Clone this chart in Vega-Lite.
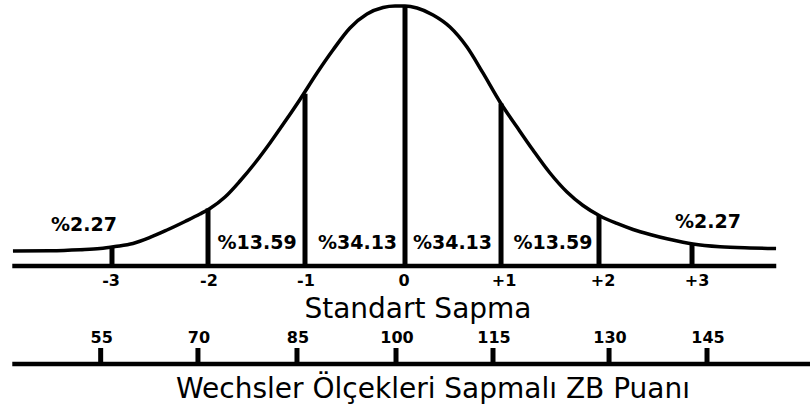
{
  "$schema": "https://vega.github.io/schema/vega-lite/v6.json",
  "width": 810,
  "height": 412,
  "padding": 0,
  "autosize": "none",
  "background": "white",
  "config": {"view": {"stroke": null}},
  "datasets": {
    "curve": [
      {"z": -4.023, "h": 0.0247}, {"z": -3.640, "h": 0.0252}, {"z": -3.330, "h": 0.0269}, {"z": -3.122, "h": 0.0288},
      {"z": -2.967, "h": 0.0321}, {"z": -2.782, "h": 0.0371}, {"z": -2.606, "h": 0.0470}, {"z": -2.430, "h": 0.0593},
      {"z": -2.244, "h": 0.0734}, {"z": -2.089, "h": 0.0857}, {"z": -1.986, "h": 0.0948}, {"z": -1.830, "h": 0.1137},
      {"z": -1.675, "h": 0.1401}, {"z": -1.520, "h": 0.1698}, {"z": -1.365, "h": 0.2028}, {"z": -1.210, "h": 0.2381},
      {"z": -1.055, "h": 0.2746}, {"z": -0.879, "h": 0.3182}, {"z": -0.714, "h": 0.3561}, {"z": -0.538, "h": 0.3924},
      {"z": -0.362, "h": 0.4154}, {"z": -0.196, "h": 0.4262}, {"z": -0.072, "h": 0.4286}, {"z": 0.031, "h": 0.4286},
      {"z": 0.155, "h": 0.4253}, {"z": 0.321, "h": 0.4138}, {"z": 0.496, "h": 0.3940}, {"z": 0.672, "h": 0.3610},
      {"z": 0.837, "h": 0.3182}, {"z": 1.013, "h": 0.2704}, {"z": 1.189, "h": 0.2291}, {"z": 1.354, "h": 0.1912},
      {"z": 1.530, "h": 0.1533}, {"z": 1.706, "h": 0.1220}, {"z": 1.872, "h": 0.0997}, {"z": 2.048, "h": 0.0824},
      {"z": 2.223, "h": 0.0701}, {"z": 2.389, "h": 0.0602}, {"z": 2.565, "h": 0.0519}, {"z": 2.740, "h": 0.0448},
      {"z": 2.906, "h": 0.0392}, {"z": 3.009, "h": 0.0363}, {"z": 3.289, "h": 0.0317}, {"z": 3.599, "h": 0.0297},
      {"z": 3.868, "h": 0.0288}
    ],
    "dividers": [
      {"z": -2.999, "base": 0, "top": 0.0330}, {"z": -2.006, "base": 0, "top": 0.0948}, {"z": -1.003, "base": 0, "top": 0.2840},
      {"z": 0.031, "base": 0, "top": 0.4286}, {"z": 1.024, "base": 0, "top": 0.2680}, {"z": 2.037, "base": 0, "top": 0.0834},
      {"z": 2.999, "base": 0, "top": 0.0366}
    ],
    "pct": [
      {"z": -3.289, "y": 0.0676, "label": "%2.27"},
      {"z": -1.499, "y": 0.0387, "label": "%13.59"},
      {"z": -0.460, "y": 0.0387, "label": "%34.13"},
      {"z": 0.522, "y": 0.0379, "label": "%34.13"},
      {"z": 1.561, "y": 0.0379, "label": "%13.59"},
      {"z": 3.164, "y": 0.0717, "label": "%2.27"}
    ],
    "sd": [
      {"z": -3.009, "y": -0.0247, "label": "-3"}, {"z": -1.996, "y": -0.0247, "label": "-2"}, {"z": -0.993, "y": -0.0247, "label": "-1"},
      {"z": 0.021, "y": -0.0247, "label": "0"}, {"z": 1.055, "y": -0.0247, "label": "+1"}, {"z": 2.079, "y": -0.0247, "label": "+2"},
      {"z": 3.051, "y": -0.0247, "label": "+3"}
    ],
    "iq": [
      {"z": -3.116, "score": "55", "base": -0.1616, "tip": -0.1352, "ly": -0.1179},
      {"z": -2.110, "score": "70", "base": -0.1616, "tip": -0.1352, "ly": -0.1179},
      {"z": -1.086, "score": "85", "base": -0.1616, "tip": -0.1352, "ly": -0.1179},
      {"z": -0.062, "score": "100", "base": -0.1616, "tip": -0.1352, "ly": -0.1179},
      {"z": 0.941, "score": "115", "base": -0.1616, "tip": -0.1352, "ly": -0.1179},
      {"z": 2.141, "score": "130", "base": -0.1616, "tip": -0.1352, "ly": -0.1179},
      {"z": 3.154, "score": "145", "base": -0.1616, "tip": -0.1352, "ly": -0.1179}
    ],
    "axes": [
      {"x1": -4.03, "x2": 3.87, "y": 0},
      {"x1": -4.03, "x2": 4.22, "y": -0.1616}
    ],
    "titles": [
      {"z": 0.165, "y": -0.0865, "text": "Standart Sapma"},
      {"z": 0.321, "y": -0.2176, "text": "Wechsler Ölçekleri Sapmalı ZB Puanı"}
    ]
  },
  "layer": [
    {
      "data": {"name": "axes"},
      "mark": {"type": "rule", "strokeWidth": 4.5, "color": "black"},
      "encoding": {
        "x": {"field": "x1", "type": "quantitative", "scale": {"domain": [-4.157, 4.219], "nice": false, "zero": false}, "axis": null},
        "x2": {"field": "x2"},
        "y": {"field": "y", "type": "quantitative", "scale": {"domain": [-0.2407, 0.4385], "nice": false, "zero": false}, "axis": null}
      }
    },
    {
      "data": {"name": "curve"},
      "mark": {"type": "line", "strokeWidth": 3.5, "color": "black", "interpolate": "monotone"},
      "encoding": {
        "x": {"field": "z", "type": "quantitative", "scale": {"domain": [-4.157, 4.219], "nice": false, "zero": false}, "axis": null},
        "y": {"field": "h", "type": "quantitative", "scale": {"domain": [-0.2407, 0.4385], "nice": false, "zero": false}, "axis": null}
      }
    },
    {
      "data": {"name": "dividers"},
      "mark": {"type": "rule", "strokeWidth": 5, "color": "black"},
      "encoding": {
        "x": {"field": "z", "type": "quantitative", "scale": {"domain": [-4.157, 4.219], "nice": false, "zero": false}, "axis": null},
        "y": {"field": "base", "type": "quantitative", "scale": {"domain": [-0.2407, 0.4385], "nice": false, "zero": false}, "axis": null},
        "y2": {"field": "top"}
      }
    },
    {
      "data": {"name": "iq"},
      "mark": {"type": "rule", "strokeWidth": 5, "color": "black"},
      "encoding": {
        "x": {"field": "z", "type": "quantitative", "scale": {"domain": [-4.157, 4.219], "nice": false, "zero": false}, "axis": null},
        "y": {"field": "base", "type": "quantitative", "scale": {"domain": [-0.2407, 0.4385], "nice": false, "zero": false}, "axis": null},
        "y2": {"field": "tip"}
      }
    },
    {
      "data": {"name": "iq"},
      "mark": {"type": "text", "font": "DejaVu Sans", "fontWeight": "bold", "fontSize": 16, "color": "black", "baseline": "middle", "align": "center", "dx": 1},
      "encoding": {
        "x": {"field": "z", "type": "quantitative", "scale": {"domain": [-4.157, 4.219], "nice": false, "zero": false}, "axis": null},
        "y": {"field": "ly", "type": "quantitative", "scale": {"domain": [-0.2407, 0.4385], "nice": false, "zero": false}, "axis": null},
        "text": {"field": "score"}
      }
    },
    {
      "data": {"name": "sd"},
      "mark": {"type": "text", "font": "DejaVu Sans", "fontWeight": "bold", "fontSize": 16, "color": "black", "baseline": "middle", "align": "center"},
      "encoding": {
        "x": {"field": "z", "type": "quantitative", "scale": {"domain": [-4.157, 4.219], "nice": false, "zero": false}, "axis": null},
        "y": {"field": "y", "type": "quantitative", "scale": {"domain": [-0.2407, 0.4385], "nice": false, "zero": false}, "axis": null},
        "text": {"field": "label"}
      }
    },
    {
      "data": {"name": "pct"},
      "mark": {"type": "text", "font": "DejaVu Sans", "fontWeight": "bold", "fontSize": 19, "color": "black", "baseline": "middle", "align": "center"},
      "encoding": {
        "x": {"field": "z", "type": "quantitative", "scale": {"domain": [-4.157, 4.219], "nice": false, "zero": false}, "axis": null},
        "y": {"field": "y", "type": "quantitative", "scale": {"domain": [-0.2407, 0.4385], "nice": false, "zero": false}, "axis": null},
        "text": {"field": "label"}
      }
    },
    {
      "data": {"name": "titles"},
      "mark": {"type": "text", "font": "DejaVu Sans", "fontSize": 28, "color": "black", "baseline": "alphabetic", "align": "center"},
      "encoding": {
        "x": {"field": "z", "type": "quantitative", "scale": {"domain": [-4.157, 4.219], "nice": false, "zero": false}, "axis": null},
        "y": {"field": "y", "type": "quantitative", "scale": {"domain": [-0.2407, 0.4385], "nice": false, "zero": false}, "axis": null},
        "text": {"field": "text"}
      }
    }
  ]
}
